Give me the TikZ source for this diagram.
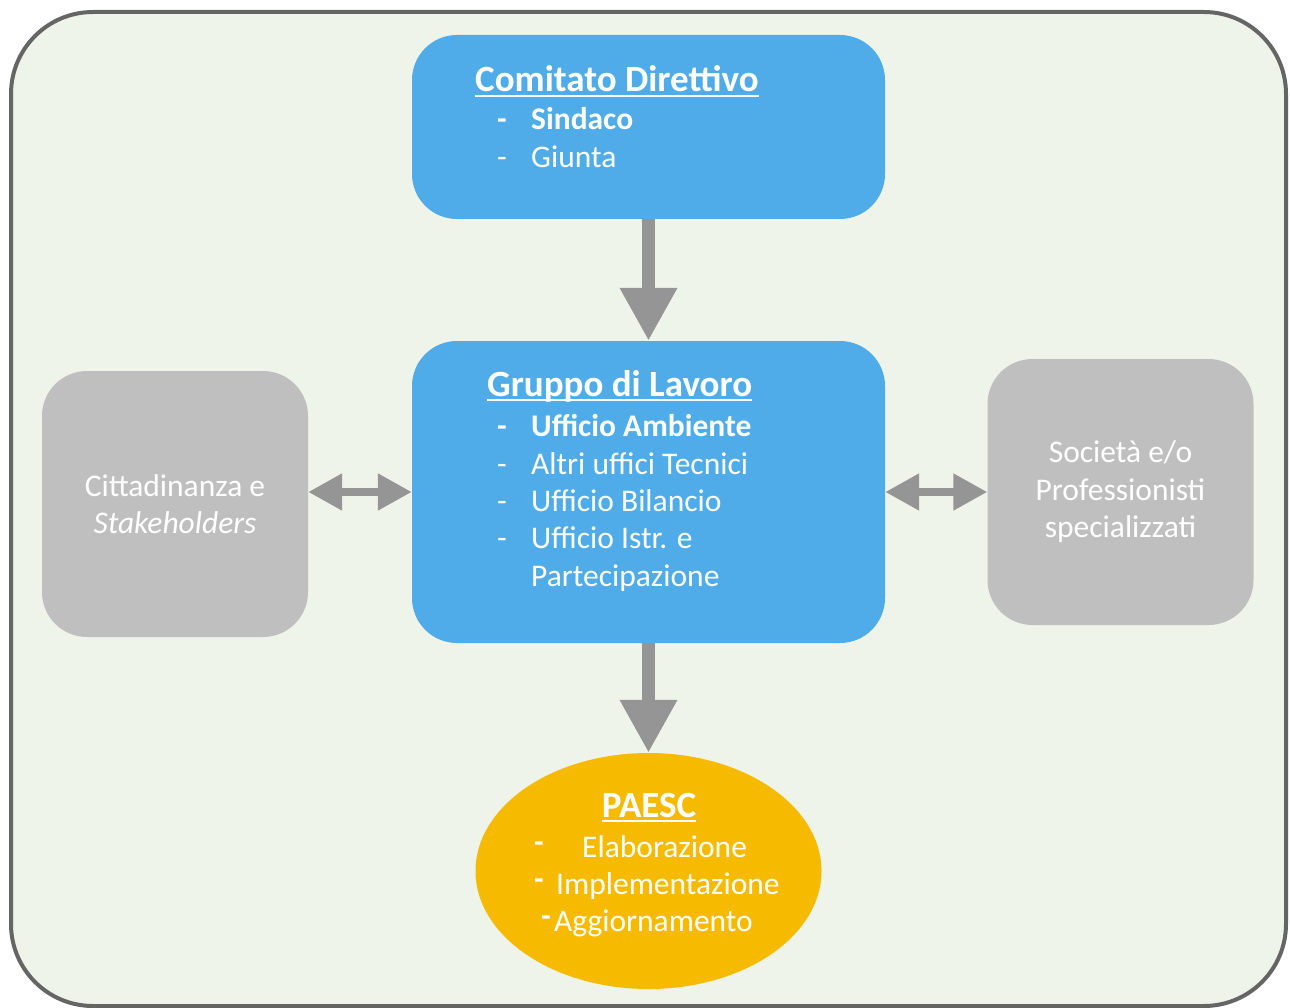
\documentclass[tikz,border=0pt]{standalone}
\usepackage{fontspec}
\setmainfont{Carlito}
\usetikzlibrary{arrows.meta,shapes.geometric}

\definecolor{boxblue}{HTML}{4FACE9}
\definecolor{boxgray}{HTML}{BFBFBF}
\definecolor{arrowgray}{HTML}{959595}
\definecolor{paescyellow}{HTML}{F6BB00}
\definecolor{bggreen}{HTML}{EFF4EA}
\definecolor{framegray}{HTML}{656565}

\tikzset{
	bluebox/.style={fill=boxblue, rounded corners=45pt, inner sep=0pt, minimum width=473pt},
	graybox/.style={fill=boxgray, rounded corners=45pt, inner sep=0pt, minimum width=266pt, minimum height=266pt},
	txt/.style={inner sep=0pt, text=white, font=\fontsize{31.5}{37.5}\selectfont},
	lbl/.style={txt, anchor=base west},
	bold/.style={font=\fontsize{31.5}{37.5}\selectfont\bfseries},
	titolo/.style={txt, font=\fontsize{37}{40}\selectfont\bfseries},
	uline/.style={white, line width=2.5pt},
	bigarrow/.style={arrowgray, line width=13pt, -{Triangle[width=54pt,length=53pt]}},
	duearrow/.style={arrowgray, line width=8pt, {Triangle[width=35pt,length=34pt]}-{Triangle[width=35pt,length=34pt]}},
}

\begin{document}
\begin{tikzpicture}[x=1pt,y=-1pt]
	\useasboundingbox (0,0) rectangle (1290,1008);
	\draw[line width=4pt, draw=framegray, fill=bggreen, rounded corners=82pt] (11,12) rectangle (1286,1006);

	% riquadri
	\node[bluebox, minimum height=184pt] (comitato) at (648.5,127) {};
	\node[bluebox, minimum height=302pt] (gruppo) at (648.5,492) {};
	\node[graybox] (cittadini) at (175,504) {};
	\node[graybox] (societa) at (1120.5,492) {};
	\node[ellipse, fill=paescyellow, minimum width=346pt, minimum height=236pt, inner sep=0pt] (paesc) at (648.5,871) {};

	% frecce
	\draw[bigarrow] (comitato) -- (gruppo);
	\draw[bigarrow] (gruppo) -- (paesc);
	\draw[duearrow] (cittadini.east |- gruppo.west) -- (gruppo.west);
	\draw[duearrow] (gruppo.east) -- (societa.west |- gruppo.east);

	% Comitato Direttivo
	\node[titolo, anchor=base west] (cdtitolo) at (475,92) {Comitato Direttivo};
	\draw[uline] ([yshift=-4pt]cdtitolo.base west) -- ([yshift=-4pt]cdtitolo.base east);
	\node[lbl, bold] (cdtrat1) at (497,130) {-};
	\node[lbl, bold] (cdsindaco) at (531,130) {Sindaco};
	\node[lbl] (cdtrat2) at (497,168) {-};
	\node[lbl] (cdgiunta) at (531,168) {Giunta};

	% Gruppo di Lavoro
	\node[titolo, anchor=base west] (gltitolo) at (487,396) {Gruppo di Lavoro};
	\draw[uline] ([yshift=-4pt]gltitolo.base west) -- ([yshift=-4pt]gltitolo.base east);
	\node[lbl, bold] (gltrat1) at (497,436) {-};
	\node[lbl, bold] (glambiente) at (531,436) {Ufficio Ambiente};
	\node[lbl] (gltrat2) at (497,474) {-};
	\node[lbl] (gltecnici) at (531,474) {Altri uffici Tecnici};
	\node[lbl] (gltrat3) at (497,511) {-};
	\node[lbl] (glbilancio) at (531,511) {Ufficio Bilancio};
	\node[lbl] (gltrat4) at (497,548) {-};
	\node[lbl] (glistr) at (531,548) {Ufficio Istr. e};
	\node[lbl] (glpartec) at (531,586) {Partecipazione};

	% laterali
	\node[txt, align=center] (cittxt) at (cittadini) {Cittadinanza e\\\textit{Stakeholders}};
	\node[txt, align=center] (soctxt) at (societa) {Società e/o\\Professionisti\\specializzati};

	% PAESC
	\node[titolo, anchor=base] (patitolo) at (649,817) {PAESC};
	\draw[uline] ([yshift=-4pt]patitolo.base west) -- ([yshift=-4pt]patitolo.base east);
	\node[lbl, bold] (patrat1) at (534,852) {-};
	\node[lbl] (paelab) at (582,857) {Elaborazione};
	\node[lbl, bold] (patrat2) at (534,889) {-};
	\node[lbl] (paimpl) at (556,894) {Implementazione};
	\node[lbl, bold] (patrat3) at (541,926) {-};
	\node[lbl] (paagg) at (554,931) {Aggiornamento};
\end{tikzpicture}
\end{document}
